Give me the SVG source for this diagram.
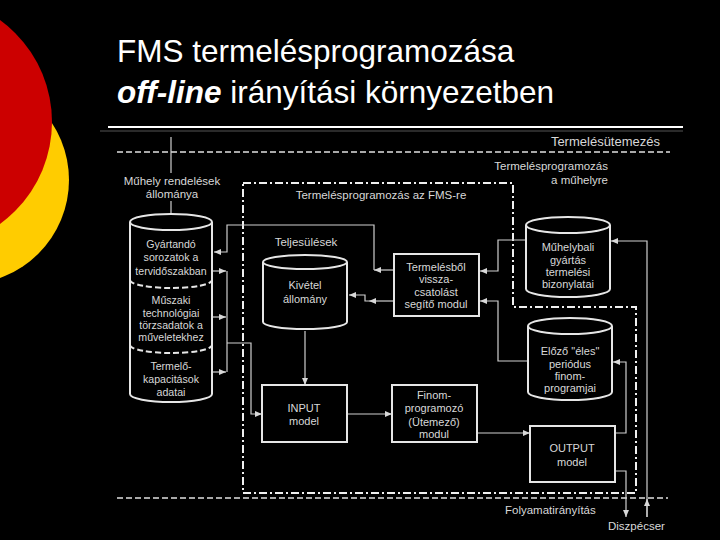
<svg xmlns="http://www.w3.org/2000/svg" width="720" height="540" viewBox="0 0 720 540">
<defs>
<marker id="ah" markerUnits="userSpaceOnUse" markerWidth="8" markerHeight="7" refX="7" refY="3" orient="auto">
<path d="M0,0 L7,3 L0,6 z" fill="#d8d8d8"/>
</marker>
</defs>
<style>
.t{font-family:"Liberation Sans",Arial,sans-serif;font-size:11.5px;fill:#d8d8d8;}
.n{font-size:11px;}
.c{text-anchor:middle;}
.sh{fill:#000;stroke:#e6e6e6;stroke-width:2;}
.cn{fill:none;stroke:#cfcfcf;stroke-width:1.2;}
.ar{marker-end:url(#ah);}
.dd{fill:none;stroke:#f0f0f0;stroke-width:2;stroke-dasharray:8 3 2 3;}
.ds{fill:none;stroke:#e0e0e0;stroke-width:1.5;stroke-dasharray:6 3;}
.ttl{font-family:"Liberation Sans",Arial,sans-serif;font-size:31.5px;fill:#fff;}
</style>
<rect width="720" height="540" fill="#000"/>
<g id="decor">
<circle cx="-35" cy="180" r="104" fill="#ffcc00"/>
<circle cx="-74" cy="122" r="126" fill="#cc0000"/>
</g>
<g id="title">
<text class="ttl" x="117" y="62">FMS termelésprogramozása</text>
<text class="ttl" x="117" y="103"><tspan font-weight="bold" font-style="italic">off-line</tspan> irányítási környezetben</text>
<line x1="108" y1="127" x2="683" y2="127" stroke="#fff" stroke-width="2"/>
<line x1="100" y1="131" x2="683" y2="131" stroke="#555" stroke-width="1"/>
</g>
<g id="levels">
<line class="ds" x1="117" y1="152" x2="670" y2="152"/>
<text class="t" x="660" y="146" text-anchor="end" style="font-size:13px">Termelésütemezés</text>
<text class="t" x="608" y="170" text-anchor="end">Termelésprogramozás</text>
<text class="t" x="608" y="184" text-anchor="end">a műhelyre</text>
<path class="dd" d="M243,183 L513,183 L513,307 L636,307 L636,493 L243,493 Z"/>
<text class="t c" x="381" y="199">Termelésprogramozás az FMS-re</text>
<line class="ds" x1="117" y1="498" x2="668" y2="498"/>
<text class="t" x="505" y="514">Folyamatirányítás</text>
<text class="t" x="608" y="530">Diszpécser</text>
<text class="t c" x="172" y="185">Műhely rendelések</text>
<text class="t c" x="172" y="198">állománya</text>
<text class="t c" x="306" y="246">Teljesülések</text>
</g>
<g id="connectors">
<path class="cn" d="M171,137 L171,173"/>
<path class="cn ar" d="M171,201 L171,223"/>
<path class="cn ar" d="M394,270 L374,270"/>
<path class="cn ar" d="M374,270 L374,225 L227,225 L227,252 L214,252"/>
<path class="cn ar" d="M394,301 L369,301"/>
<path class="cn ar" d="M369,301 L365,301 L365,295 L349,295"/>
<path class="cn ar" d="M526,240 L498,240 L498,271 L480,271"/>
<path class="cn ar" d="M528,361 L498,361 L498,301 L480,301"/>
<path class="cn ar" d="M213,271 L226,271"/>
<path class="cn ar" d="M213,317 L226,317"/>
<path class="cn ar" d="M213,372 L226,372"/>
<path class="cn" d="M227,271 L227,372"/>
<path class="cn ar" d="M227,343 L251,343 L251,414 L262,414"/>
<path class="cn ar" d="M305,331 L305,385"/>
<path class="cn ar" d="M347,414 L392,414"/>
<path class="cn ar" d="M477,433 L530,433"/>
<path class="cn ar" d="M615,433 L626,433 L626,362 L613,362"/>
<path class="cn ar" d="M615,471 L626,471 L626,517"/>
<path class="cn ar" d="M647,517 L647,241 L611,241"/>
<path class="cn ar" d="M647,517 L647,499"/>
</g>
<g id="n-tervdata">
<path class="sh" d="M130,222 L130,394 A41,8 0 0 0 212,394 L212,222"/>
<ellipse class="sh" cx="171" cy="222" rx="41" ry="8"/>
<path d="M130,280 A41,8 0 0 0 212,280" fill="none" stroke="#e6e6e6" stroke-width="2" stroke-dasharray="6 3"/>
<path d="M130,345 A41,8 0 0 0 212,345" fill="none" stroke="#e6e6e6" stroke-width="2" stroke-dasharray="6 3"/>
<g class="t c" style="font-size:10.6px">
<text x="171" y="248">Gyártandó</text>
<text x="171" y="261">sorozatok a</text>
<text x="171" y="275">tervidőszakban</text>
<text x="171" y="304">Műszaki</text>
<text x="171" y="317">technológiai</text>
<text x="171" y="329">törzsadatok a</text>
<text x="171" y="341">műveletekhez</text>
<text x="171" y="370">Termelő-</text>
<text x="171" y="383">kapacitások</text>
<text x="171" y="396">adatai</text>
</g>
</g>
<g id="n-kivetel">
<path class="sh" d="M263,262 L263,322 A42,7 0 0 0 347,322 L347,262"/>
<ellipse class="sh" cx="305" cy="262" rx="42" ry="7"/>
<text class="t n c" x="305" y="289">Kivétel</text>
<text class="t n c" x="305" y="303">állomány</text>
</g>
<g id="n-visszacsatolo">
<rect class="sh" x="394" y="254" width="85" height="62"/>
<text class="t n c" x="436" y="271">Termelésből</text>
<text class="t n c" x="436" y="283">vissza-</text>
<text class="t n c" x="436" y="296">csatolást</text>
<text class="t n c" x="436" y="308">segítő modul</text>
</g>
<g id="n-muhelybali">
<path class="sh" d="M526,225 L526,289 A42,8 0 0 0 610,289 L610,225"/>
<ellipse class="sh" cx="568" cy="225" rx="42" ry="8"/>
<text class="t n c" x="568" y="251">Műhelybali</text>
<text class="t n c" x="568" y="264">gyártás</text>
<text class="t n c" x="568" y="276">termelési</text>
<text class="t n c" x="568" y="288">bizonylatai</text>
</g>
<g id="n-elozo">
<path class="sh" d="M528,326 L528,392 A42,8 0 0 0 612,392 L612,326"/>
<ellipse class="sh" cx="570" cy="326" rx="42" ry="8"/>
<text class="t n c" x="570" y="355">Előző "éles"</text>
<text class="t n c" x="570" y="368">periódus</text>
<text class="t n c" x="570" y="380">finom-</text>
<text class="t n c" x="570" y="392">programjai</text>
</g>
<g id="n-input">
<rect class="sh" x="262" y="385" width="85" height="57"/>
<text class="t n c" x="304" y="412">INPUT</text>
<text class="t n c" x="304" y="425">model</text>
</g>
<g id="n-finom">
<rect class="sh" x="392" y="385" width="85" height="57"/>
<text class="t n c" x="434" y="399">Finom-</text>
<text class="t n c" x="434" y="412">programozó</text>
<text class="t n c" x="434" y="426">(Ütemező)</text>
<text class="t n c" x="434" y="438">modul</text>
</g>
<g id="n-output">
<rect class="sh" x="530" y="426" width="85" height="56"/>
<text class="t n c" x="572" y="452">OUTPUT</text>
<text class="t n c" x="572" y="466">model</text>
</g>
</svg>
